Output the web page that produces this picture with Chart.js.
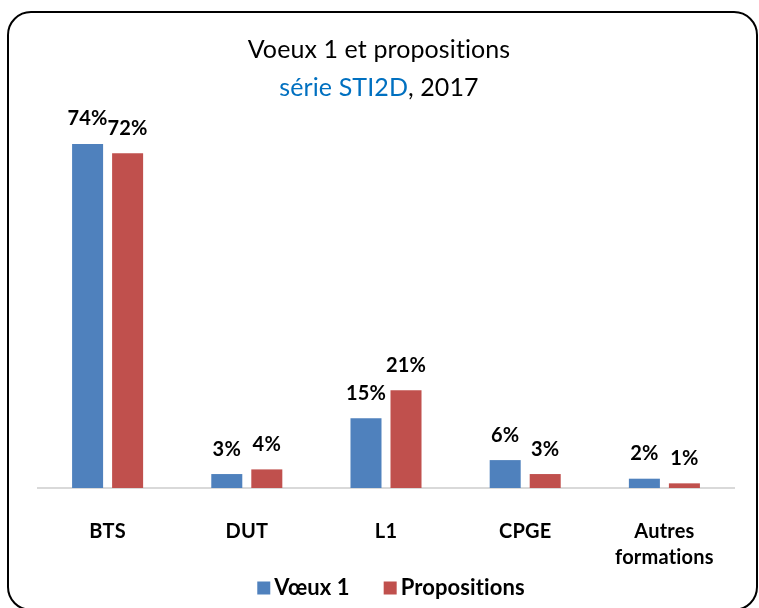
<!DOCTYPE html>
<html>
<head>
<meta charset="utf-8">
<script src="https://cdn.jsdelivr.net/npm/chart.js@4/dist/chart.umd.min.js"></script>
<style>
  html, body { margin: 0; padding: 0; background: #fff; overflow: hidden; }
  #wrap { position: relative; width: 759px; height: 608px; }
  #frame { position: absolute; left: 7px; top: 11px; width: 751px; height: 600px;
           box-sizing: border-box; border: 2px solid #000; border-radius: 24px; pointer-events: none; }
  canvas { position: absolute; left: 0; top: 0; }
</style>
</head>
<body>
<div id="wrap">
  <canvas id="c" width="759" height="608"></canvas>
  <div id="frame"></div>
</div>
<script>
const categories = ['BTS', 'DUT', 'L1', 'CPGE', ['Autres', 'formations']];
const voeux1 = [74, 3, 15, 6, 2];
const propositions = [72, 4, 21, 3, 1];
const seriesNames = ['Vœux 1', 'Propositions'];
const seriesColors = ['#4F81BD', '#C0504D'];
const titleLine1 = 'Voeux 1 et propositions';
const titleLine2a = 'série STI2D';
const titleLine2b = ', 2017';

const FONT = 'Lato, "Open Sans", sans-serif';

const noLigatures = {
  id: 'noLigatures',
  beforeDraw(chart) { chart.ctx.letterSpacing = '0.2px'; }
};

const titlePlugin = {
  id: 'twoColorTitle',
  afterDraw(chart) {
    const ctx = chart.ctx;
    ctx.save();
    ctx.letterSpacing = '0.1px';
    ctx.font = '25px ' + FONT;
    ctx.textBaseline = 'middle';
    ctx.textAlign = 'center';
    ctx.fillStyle = '#000';
    const cx = 379;
    ctx.fillText(titleLine1, cx, 50);
    const wa = ctx.measureText(titleLine2a).width;
    const wb = ctx.measureText(titleLine2b).width;
    const x0 = cx - (wa + wb) / 2;
    ctx.textAlign = 'left';
    ctx.fillStyle = '#0070C0';
    ctx.fillText(titleLine2a, x0, 88);
    ctx.fillStyle = '#000';
    ctx.fillText(titleLine2b, x0 + wa, 88);
    ctx.restore();
  }
};

const valueLabels = {
  id: 'valueLabels',
  afterDatasetsDraw(chart) {
    const ctx = chart.ctx;
    ctx.save();
    ctx.font = 'bold 20px ' + FONT;
    ctx.fillStyle = '#000';
    ctx.textAlign = 'center';
    ctx.textBaseline = 'middle';
    chart.data.datasets.forEach((ds, i) => {
      chart.getDatasetMeta(i).data.forEach((bar, j) => {
        ctx.fillText(ds.data[j] + '%', bar.x, bar.y - 25);
      });
    });
    ctx.restore();
  }
};

const customLegend = {
  id: 'customLegend',
  afterDraw(chart) {
    const ctx = chart.ctx;
    ctx.save();
    ctx.letterSpacing = '0.1px';
    ctx.font = 'bold 22px ' + FONT;
    ctx.textBaseline = 'middle';
    ctx.textAlign = 'left';
    const box = 13, gap = 4, itemGap = 34;
    const items = chart.data.datasets.map(ds => ({
      text: ds.label, color: ds.backgroundColor, w: box + gap + ctx.measureText(ds.label).width
    }));
    const total = items.reduce((a, it) => a + it.w, 0) + itemGap * (items.length - 1);
    const area = chart.chartArea;
    let x = (area.left + area.right) / 2 + 5 - total / 2;
    const y = 588;
    items.forEach(it => {
      ctx.fillStyle = it.color;
      ctx.fillRect(x, y - box / 2, box, box);
      ctx.fillStyle = '#000';
      ctx.fillText(it.text, x + box + gap, y);
      x += it.w + itemGap;
    });
    ctx.restore();
  }
};

new Chart(document.getElementById('c'), {
  type: 'bar',
  data: {
    labels: categories,
    datasets: [
      { label: seriesNames[0], data: voeux1, backgroundColor: seriesColors[0] },
      { label: seriesNames[1], data: propositions, backgroundColor: seriesColors[1] }
    ]
  },
  options: {
    responsive: false,
    animation: false,
    devicePixelRatio: 1,
    categoryPercentage: 0.575,
    barPercentage: 0.775,
    layout: { padding: { top: 116, left: 38, right: 25, bottom: 39 } },
    plugins: {
      title: { display: false },
      tooltip: { enabled: false },
      legend: { display: false }
    },
    scales: {
      x: {
        grid: { display: false, drawTicks: false },
        border: { display: true, color: '#D9D9D9', width: 2 },
        ticks: {
          color: '#000', padding: 31,
          font: { family: FONT, size: 20, weight: 'bold', lineHeight: 1.3 }
        },
        afterFit(s) { s.height = 81; }
      },
      y: {
        display: false,
        min: 0, max: 80
      }
    }
  },
  plugins: [noLigatures, titlePlugin, valueLabels, customLegend]
});
</script>
</body>
</html>
